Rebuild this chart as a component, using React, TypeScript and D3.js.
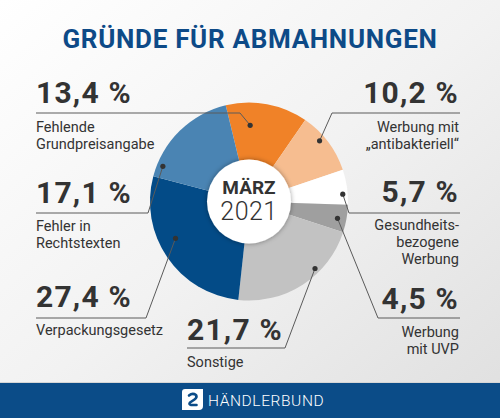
import React from "react";
import * as d3 from "d3";

// ---- data ----
const categories = [
  "Fehlende Grundpreisangabe",
  "Werbung mit „antibakteriell“",
  "Gesundheitsbezogene Werbung",
  "Werbung mit UVP",
  "Sonstige",
  "Verpackungsgesetz",
  "Fehler in Rechtstexten",
];
const values = [13.4, 10.2, 5.7, 4.5, 21.7, 27.4, 17.1];
const labelLines = [
  ["Fehlende", "Grundpreisangabe"],
  ["Werbung mit", "„antibakteriell“"],
  ["Gesundheits-", "bezogene", "Werbung"],
  ["Werbung", "mit UVP"],
  ["Sonstige"],
  ["Verpackungsgesetz"],
  ["Fehler in", "Rechtstexten"],
];
const title = "GRÜNDE FÜR ABMAHNUNGEN";
const centerMonth = "MÄRZ";
const centerYear = "2021";
const brand = "HÄNDLERBUND";

// ---- styles / layout ----
const colors = ["#f08228", "#f6bd90", "#ffffff", "#9f9f9f", "#c2c2c2", "#034b87", "#4a84b3"];
const W = 500, H = 418;
const cx = 249, cy = 201.5, R = 99, innerR = 42;
const startDeg = -13.6;
// where the leader dot sits inside each slice
const dotFrac = [0.3, 0.4, 0.69, 0.55, 0.35, 0.58, 0.12];
const dotRad = [0.77, 0.94, 0.95, 0.91, 0.95, 0.83, 0.94];
// label placement
const labelLayout = [
  { side: "left", x: 36, numY: 103, lineY: 113, elbowX: 240, textY: 132 },
  { side: "right", x: 459, numY: 103, lineY: 113, elbowX: 332, textY: 132 },
  { side: "right", x: 459, numY: 202, lineY: 213, elbowX: 349, textY: 230 },
  { side: "right", x: 459, numY: 309, lineY: 318, elbowX: 378, textY: 337 },
  { side: "left", x: 187, numY: 340, lineY: 348, elbowX: 285, textY: 367 },
  { side: "left", x: 36, numY: 307, lineY: 318, elbowX: 146, textY: 335 },
  { side: "left", x: 36, numY: 203, lineY: 213, elbowX: 148, textY: 231 },
];

const FONT = "Roboto, 'Noto Sans', sans-serif";
const fmt = (v: number) => v.toFixed(1).replace(".", ",") + " %";

export default function App() {
  const start = (startDeg * Math.PI) / 180;
  const pie = d3
    .pie<number>()
    .sort(null)
    .value((d) => d)
    .startAngle(start)
    .endAngle(start + 2 * Math.PI);
  const arcs = pie(values);
  const arc = d3.arc<d3.PieArcDatum<number>>().innerRadius(0).outerRadius(R);

  return (
    <svg
      width={W}
      height={H}
      style={{ position: "absolute", left: 0, top: 0 }}
      fontFamily={FONT}
    >
      <defs>
        <linearGradient id="bg" x1="0" y1="0" x2="1" y2="1">
          <stop offset="0" stopColor="#ffffff" />
          <stop offset="0.5" stopColor="#f2f2f2" />
          <stop offset="1" stopColor="#dfdfdf" />
        </linearGradient>
        <filter id="sh" x="-30%" y="-30%" width="160%" height="160%">
          <feDropShadow dx="0" dy="0" stdDeviation="2.5" floodColor="#000" floodOpacity="0.4" />
        </filter>
      </defs>
      <rect x={0} y={0} width={W} height={H} fill="url(#bg)" />

      <text
        x={250}
        y={47.5}
        textAnchor="middle"
        fontSize={26}
        fontWeight={700}
        fill="#0d4a87"
        letterSpacing={0.7}
      >
        {title}
      </text>

      <g transform={`translate(${cx},${cy})`}>
        {arcs.map((a, i) => (
          <path key={categories[i]} d={arc(a) || ""} fill={colors[i]} />
        ))}
        <circle r={innerR} fill="#ffffff" filter="url(#sh)" />
        <text y={-8} textAnchor="middle" fontSize={19} fontWeight={700} fill="#333">
          {centerMonth}
        </text>
        <text y={18} textAnchor="middle" fontSize={25} fontWeight={300} fill="#333" letterSpacing={0.5}>
          {centerYear}
        </text>
      </g>

      {arcs.map((a, i) => {
        const L = labelLayout[i];
        const ang = a.startAngle + dotFrac[i] * (a.endAngle - a.startAngle);
        const [px, py] = d3.pointRadial(ang, dotRad[i] * R);
        const dx = cx + px, dy = cy + py;
        const left = L.side === "left";
        const anchor = left ? "start" : "end";
        const lineEnd = left ? L.x : L.x + 1;
        return (
          <g key={"lab" + i}>
            <polyline
              points={`${lineEnd},${L.lineY} ${L.elbowX},${L.lineY} ${dx},${dy}`}
              fill="none"
              stroke="#5a5a5a"
              strokeWidth={1}
            />
            <circle cx={dx} cy={dy} r={2.6} fill="#333" />
            <text
              x={L.x}
              y={L.numY}
              textAnchor={anchor}
              fontSize={30}
              fontWeight={700}
              fill="#333"
              letterSpacing={1.2}
            >
              {fmt(values[i])}
            </text>
            {labelLines[i].map((t, j) => (
              <text
                key={j}
                x={L.x}
                y={L.textY + j * 17}
                textAnchor={anchor}
                fontSize={14.5}
                fill="#333"
              >
                {t}
              </text>
            ))}
          </g>
        );
      })}

      <rect x={0} y={382} width={W} height={1} fill="#d6d6d6" />
      <rect x={0} y={383} width={W} height={H - 383} fill="#0b4c88" />
      <g transform="translate(182,389)">
        <path d="M3,0 H21 V17 Q21,21 17,21 H0 V3 Q0,0 3,0 Z" fill="#ffffff" />
        <path
          d="M7,6.5 Q10.5,3.5 14,6 Q15.5,8.5 12.5,10.5 L8,13.5 Q6.5,15.5 9,16 H14.5"
          fill="none"
          stroke="#0b4c88"
          strokeWidth={2.6}
          strokeLinecap="round"
          strokeLinejoin="round"
        />
      </g>
      <text x={208} y={406} fontSize={15.5} fontWeight={300} fill="#ffffff" letterSpacing={0.6}>
        {brand}
      </text>
    </svg>
  );
}
